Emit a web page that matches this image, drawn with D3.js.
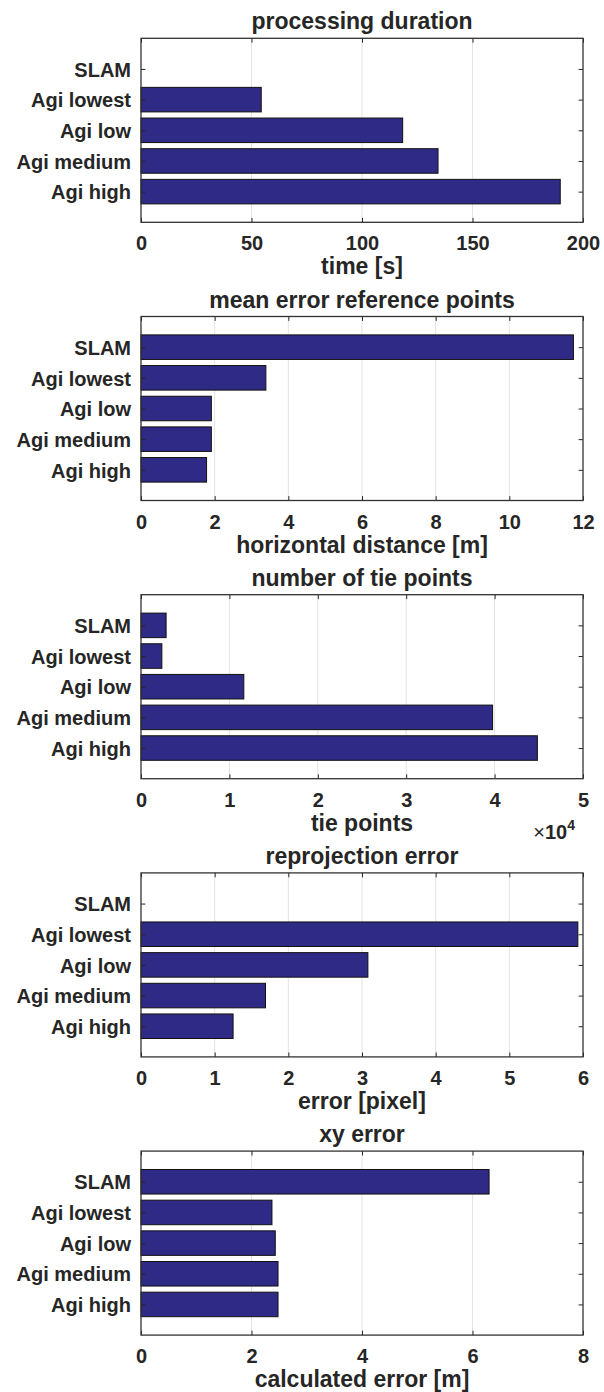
<!DOCTYPE html>
<html>
<head>
<meta charset="utf-8">
<script src="https://cdn.jsdelivr.net/npm/d3@7"></script>
<style>
  html, body { margin: 0; padding: 0; background: #fff; }
  svg { display: block; }
  text { font-family: "Liberation Sans", Arial, Helvetica, sans-serif; font-weight: bold; fill: #262626; }
</style>
</head>
<body>
<svg id="chart" width="604" height="1392"></svg>
<script>
// ---- data ----
const categories = ["SLAM", "Agi lowest", "Agi low", "Agi medium", "Agi high"];

const durationValues = [0, 54.4, 118.4, 134.4, 189.7];
const durationTicks = [0, 50, 100, 150, 200];

const meanErrorValues = [11.74, 3.39, 1.91, 1.91, 1.78];
const meanErrorTicks = [0, 2, 4, 6, 8, 10, 12];

const tiePointValues = [2840, 2360, 11630, 39770, 44840];
const tiePointTicks = [0, 10000, 20000, 30000, 40000, 50000];

const reprojValues = [0, 5.93, 3.08, 1.69, 1.25];
const reprojTicks = [0, 1, 2, 3, 4, 5, 6];

const xyErrorValues = [6.30, 2.37, 2.43, 2.48, 2.48];
const xyErrorTicks = [0, 2, 4, 6, 8];

const titles = ["processing duration", "mean error reference points", "number of tie points", "reprojection error", "xy error"];
const xLabels = ["time [s]", "horizontal distance [m]", "tie points", "error [pixel]", "calculated error [m]"];

const panels = [
  { title: titles[0], xlabel: xLabels[0], values: durationValues, ticks: durationTicks, fmt: d => d },
  { title: titles[1], xlabel: xLabels[1], values: meanErrorValues, ticks: meanErrorTicks, fmt: d => d },
  { title: titles[2], xlabel: xLabels[2], values: tiePointValues, ticks: tiePointTicks, fmt: d => d / 1e4, exponent: 4 },
  { title: titles[3], xlabel: xLabels[3], values: reprojValues, ticks: reprojTicks, fmt: d => d },
  { title: titles[4], xlabel: xLabels[4], values: xyErrorValues, ticks: xyErrorTicks, fmt: d => d }
];

// ---- layout ----
const svg = d3.select("#chart");
const boxLeft = 141, boxRight = 583, boxH = 184;
const firstTop = 38.3, panelStep = 278.2;
const W = boxRight - boxLeft;
const tickLen = 4.4;
const barColor = "#2f2a86";
const textColor = "#262626";

svg.append("rect").attr("width", 604).attr("height", 1392).attr("fill", "#fff");

panels.forEach((p, pi) => {
  const top = firstTop + pi * panelStep;
  const g = svg.append("g").attr("transform", `translate(${boxLeft},${top})`);

  const x = d3.scaleLinear().domain([p.ticks[0], p.ticks[p.ticks.length - 1]]).range([0, W]);
  const y = d3.scaleLinear().domain([0, categories.length + 1]).range([0, boxH]);
  const barH = y(0.8) - y(0);

  // grid
  g.append("g").selectAll("line")
    .data(p.ticks.slice(1, -1))
    .join("line")
    .attr("x1", d => x(d)).attr("x2", d => x(d))
    .attr("y1", 0).attr("y2", boxH)
    .attr("stroke", "#e3e3e3").attr("stroke-width", 1);

  // bars
  g.append("g").selectAll("rect")
    .data(p.values.map((v, i) => ({ v, i })).filter(d => d.v > 0))
    .join("rect")
    .attr("x", x(0))
    .attr("y", d => y(d.i + 1) - barH / 2)
    .attr("width", d => x(d.v) - x(0))
    .attr("height", barH)
    .attr("fill", barColor)
    .attr("stroke", "#111")
    .attr("stroke-width", 1);

  // axes
  const bottom = g.append("g").attr("transform", `translate(0,${boxH})`)
    .call(d3.axisBottom(x).tickValues(p.ticks).tickFormat(p.fmt).tickSizeInner(-tickLen).tickSizeOuter(0));
  bottom.selectAll("text").attr("y", 28).attr("dy", 0).style("font-size", "20px").attr("fill", textColor);

  const topAxis = g.append("g")
    .call(d3.axisTop(x).tickValues(p.ticks).tickFormat("").tickSizeInner(-tickLen).tickSizeOuter(0));

  const yVals = categories.map((c, i) => i + 1);
  const left = g.append("g")
    .call(d3.axisLeft(y).tickValues(yVals).tickFormat((d, i) => categories[i]).tickSizeInner(-tickLen).tickSizeOuter(0));
  left.selectAll("text").attr("x", -10).attr("dy", "0.36em").style("font-size", "20px").attr("fill", textColor);

  const right = g.append("g").attr("transform", `translate(${W},0)`)
    .call(d3.axisRight(y).tickValues(yVals).tickFormat("").tickSizeInner(-tickLen).tickSizeOuter(0));

  [bottom, topAxis, left, right].forEach(a => {
    a.select(".domain").remove();
    a.selectAll(".tick line").attr("stroke", textColor).attr("stroke-width", 1);
  });

  // box
  g.append("rect").attr("x", 0).attr("y", 0).attr("width", W).attr("height", boxH)
    .attr("fill", "none").attr("stroke", "#333").attr("stroke-width", 1.3);

  // title
  g.append("text").attr("x", W / 2).attr("y", -9).attr("text-anchor", "middle")
    .style("font-size", "23px").text(p.title);

  // x label
  g.append("text").attr("x", W / 2).attr("y", boxH + 52).attr("text-anchor", "middle")
    .style("font-size", "23px").text(p.xlabel);

  // exponent
  if (p.exponent) {
    const t = g.append("text").attr("x", W - 8).attr("y", boxH + 60).attr("text-anchor", "end")
      .style("font-size", "20px");
    t.append("tspan").style("font-weight", "normal").text("\u00d7");
    t.append("tspan").text("10");
    t.append("tspan").attr("dy", -9).style("font-size", "14px").text(p.exponent);
  }
});
</script>
</body>
</html>
